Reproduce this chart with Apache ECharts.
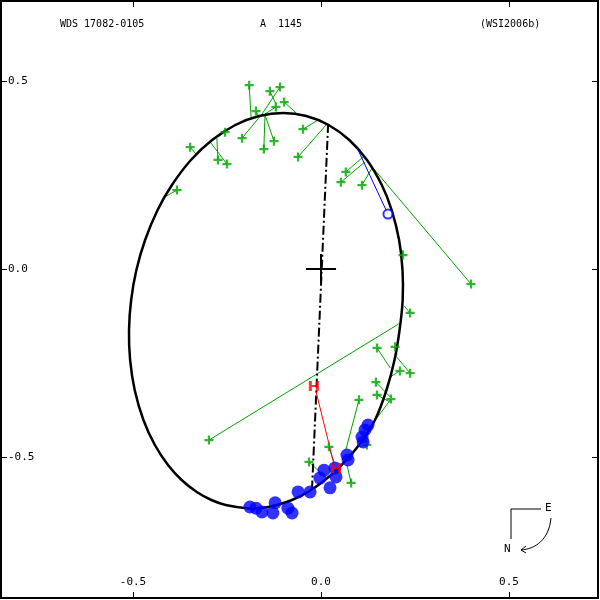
<!DOCTYPE html>
<html>
<head>
<meta charset="utf-8">
<script src="https://cdn.jsdelivr.net/npm/echarts@6/dist/echarts.min.js"></script>
<style>html,body{margin:0;padding:0;background:#fff}#c{width:600px;height:600px}</style>
</head>
<body>
<div id="c"></div>
<script>
// ---- data (arcsec) ----
const tickValues = [-0.5, 0.0, 0.5];
const orbitX = [-0.1011,-0.0391,0.0202,0.0753,0.1223,0.1617,0.1880,0.2077,0.2168,0.2172,0.2090,0.1955,0.1742,0.1436,0.1011,0.0545,0.0106,-0.0346,-0.0771,-0.1170,-0.1569,-0.1915,-0.2535,-0.2915,-0.3303,-0.3707,-0.4069,-0.4418,-0.4723,-0.4955,-0.5077,-0.5106,-0.5049,-0.4910,-0.4678,-0.4346,-0.3965,-0.3460,-0.2896,-0.2279,-0.1644];
const orbitY = [0.4149,0.4069,0.3830,0.3431,0.2899,0.2234,0.1569,0.0771,-0.0027,-0.0824,-0.1622,-0.2420,-0.3218,-0.4016,-0.4681,-0.5213,-0.5612,-0.5931,-0.6144,-0.6277,-0.6356,-0.6370,-0.6277,-0.6144,-0.5931,-0.5612,-0.5213,-0.4681,-0.4016,-0.3218,-0.2420,-0.1622,-0.0824,-0.0027,0.0771,0.1569,0.2234,0.2899,0.3431,0.3830,0.4069];
const nodeX = [0.019, -0.024];
const nodeY = [0.386, -0.588];
const greenObsX = [-0.191,-0.136,-0.109,-0.098,-0.120,-0.173,-0.152,-0.125,-0.210,-0.048,-0.061,-0.348,-0.274,-0.250,-0.255,-0.383,0.066,0.053,0.109,0.399,0.218,0.237,-0.298,0.149,0.197,0.237,0.210,0.146,0.149,0.186,0.101,0.122,0.021,-0.032,0.080];
const greenObsY = [0.489,0.473,0.484,0.444,0.431,0.420,0.319,0.340,0.348,0.372,0.298,0.324,0.290,0.279,0.364,0.210,0.258,0.231,0.223,-0.040,0.037,-0.117,-0.455,-0.210,-0.207,-0.277,-0.271,-0.301,-0.335,-0.346,-0.348,-0.468,-0.473,-0.513,-0.569];
const greenPredX = [-0.186,-0.120,-0.157,-0.066,-0.149,-0.168,-0.149,-0.149,-0.157,-0.008,0.016,-0.330,-0.277,-0.295,-0.274,-0.420,0.112,0.117,0.136,0.138,0.215,0.221,0.210,0.184,0.202,0.197,0.184,0.184,0.184,0.149,0.066,0.104,0.035,-0.003,0.069];
const greenPredY = [0.404,0.439,0.412,0.415,0.412,0.410,0.410,0.410,0.412,0.396,0.386,0.303,0.348,0.338,0.351,0.189,0.298,0.285,0.269,0.269,0.051,-0.098,-0.144,-0.263,-0.229,-0.229,-0.287,-0.340,-0.354,-0.396,-0.481,-0.473,-0.516,-0.540,-0.521];
const blueX = [-0.189,-0.173,-0.157,-0.128,-0.122,-0.088,-0.077,-0.061,-0.029,-0.003,0.008,0.024,0.037,0.040,0.069,0.072,0.109,0.112,0.117,0.125];
const blueY = [-0.633,-0.636,-0.646,-0.649,-0.622,-0.636,-0.649,-0.593,-0.593,-0.556,-0.535,-0.582,-0.529,-0.553,-0.495,-0.508,-0.447,-0.460,-0.428,-0.415];
const blueOpenX = [0.178];
const blueOpenY = [0.146];
const blueOpenPredX = [0.096];
const blueOpenPredY = [0.322];
const redX = [-0.019, 0.040];
const redY = [-0.311, -0.529];
const redLineX = [-0.013, 0.035];
const redLineY = [-0.327, -0.521];
// ---- build ----
const zip = (a,b) => a.map((v,i)=>[v,b[i]]);
const xMin = (1-321)/376, xMax = (598-321)/376;
const yMax = (269-1)/376, yMin = (269-598)/376;
const FONT = 'DejaVu Sans Mono';
const plusPath = 'path://M3,0h2v3h3v2h-3v3h-2v-3h-3v-2h3z';
const hPath = 'path://M0,0h3v4h4v-4h3v10h-3v-4h-4v4h-3z';
const green = '#00a400';
const segs = greenObsX.map((v,i)=>({coords:[[v,greenObsY[i]],[greenPredX[i],greenPredY[i]]]}));
const orbitData = zip(orbitX, orbitY);

const chart = echarts.init(document.getElementById('c'), null, {renderer:'canvas'});
const axisCommon = {type:'value', splitLine:{show:false}, axisLine:{show:false, onZero:false}};
const tick = {show:true, inside:true, length:6, lineStyle:{color:'#000', width:1}, customValues:tickValues};
chart.setOption({
  animation:false,
  backgroundColor:'#fff',
  grid:{left:1, top:1, width:597, height:597, show:true, borderColor:'#000', borderWidth:2},
  xAxis:[
    Object.assign({}, axisCommon, {min:xMin, max:xMax, position:'bottom', axisTick:tick,
      axisLabel:{inside:true, margin:10, color:'#000', fontFamily:FONT, fontSize:11, customValues:tickValues, formatter:v=>v.toFixed(1)}}),
    Object.assign({}, axisCommon, {min:xMin, max:xMax, position:'top', axisTick:tick, axisLabel:{show:false}})
  ],
  yAxis:[
    Object.assign({}, axisCommon, {min:yMin, max:yMax, position:'left', axisTick:tick,
      axisLabel:{inside:true, margin:7, color:'#000', fontFamily:FONT, fontSize:11, customValues:tickValues, formatter:v=>v.toFixed(1)}}),
    Object.assign({}, axisCommon, {min:yMin, max:yMax, position:'right', axisTick:tick, axisLabel:{show:false}})
  ],
  series:[
    {type:'lines', coordinateSystem:'cartesian2d', data:segs, lineStyle:{color:green, width:1, opacity:1}, z:2},
    {type:'custom', coordinateSystem:'cartesian2d', data:[[0,0]], z:3,
      renderItem:(params, api) => ({
        type:'polygon',
        shape:{points:orbitData.map(p=>api.coord(p)), smooth:0.3},
        style:{fill:null, stroke:'#000', lineWidth:2.5}
      })},
    {type:'line', data:zip(nodeX, nodeY), showSymbol:false, symbol:'none', lineStyle:{color:'#000', width:2, type:[9,3,2,3]}, z:3},
    {type:'line', data:zip(redLineX, redLineY), showSymbol:false, symbol:'none', lineStyle:{color:'#ff0000', width:1}, z:4},
    {type:'line', data:zip(blueOpenX.concat(blueOpenPredX), blueOpenY.concat(blueOpenPredY)), showSymbol:false, symbol:'none', lineStyle:{color:'#0000ff', width:1}, z:4},
    {type:'scatter', data:zip(greenObsX, greenObsY), symbol:plusPath, symbolSize:9, itemStyle:{color:green}, z:5},
    {type:'scatter', data:zip(blueX, blueY), symbol:'circle', symbolSize:13, itemStyle:{color:'#0000ff'}, z:6},
    {type:'scatter', data:zip(blueOpenX, blueOpenY), symbol:'emptyCircle', symbolSize:9, itemStyle:{color:'#0000ff', borderColor:'#0000ff', borderWidth:1}, z:6},
    {type:'scatter', data:zip(redX, redY), symbol:hPath, symbolSize:10, itemStyle:{color:'#ff0000'}, z:7},
    {type:'line', data:[[-0.04,0],[0.04,0]], showSymbol:false, symbol:'none', lineStyle:{color:'#000', width:2}, z:8},
    {type:'line', data:[[0,-0.04],[0,0.04]], showSymbol:false, symbol:'none', lineStyle:{color:'#000', width:2}, z:8}
  ],
  graphic:[
    {type:'text', left:60, top:19, style:{text:'WDS 17082-0105', font:'10px "DejaVu Sans Mono"', fill:'#000'}},
    {type:'text', left:260, top:19, style:{text:'A  1145', font:'10px "DejaVu Sans Mono"', fill:'#000'}},
    {type:'text', left:480, top:19, style:{text:'(WSI2006b)', font:'10px "DejaVu Sans Mono"', fill:'#000'}},
    {type:'polyline', shape:{points:[[541,509],[511,509],[511,539]]}, style:{stroke:'#000', lineWidth:1, fill:null}},
    {type:'text', x:545, y:503, style:{text:'E', font:'11px "DejaVu Sans Mono"', fill:'#000'}},
    {type:'text', x:504, y:544, style:{text:'N', font:'11px "DejaVu Sans Mono"', fill:'#000'}},
    {type:'bezierCurve', shape:{x1:551, y1:518, cpx1:549, cpy1:540, cpx2:535, cpy2:549, x2:521, y2:550}, style:{stroke:'#000', lineWidth:1, fill:null}},
    {type:'polyline', shape:{points:[[526,546],[521,550],[526,553]]}, style:{stroke:'#000', lineWidth:1, fill:null}}
  ]
});
</script>
</body>
</html>
